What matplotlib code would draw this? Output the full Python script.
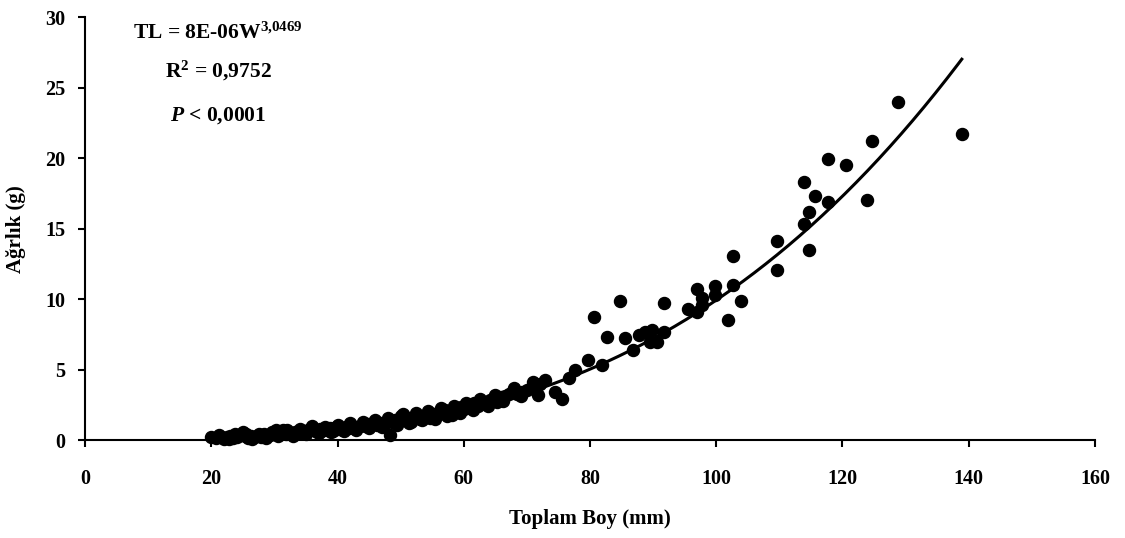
import numpy as np
import matplotlib.pyplot as plt

plt.rcParams['font.family'] = ['Liberation Serif', 'DejaVu Serif']
plt.rcParams['font.weight'] = 'bold'
plt.rcParams['mathtext.fontset'] = 'custom'
plt.rcParams['mathtext.rm'] = 'Liberation Serif:bold'
plt.rcParams['mathtext.bf'] = 'Liberation Serif:bold'
plt.rcParams['mathtext.it'] = 'Liberation Serif:italic:bold'

# total length (mm) and weight (g)
length_mm = [
    20.0, 20.8, 21.5, 22.0, 22.5, 23.0, 23.5, 24.0, 24.5, 25.0, 25.3, 25.8,
    26.3, 26.8, 27.3, 27.8, 28.3, 28.8, 29.3, 29.8, 30.3, 30.8, 31.3, 31.8,
    32.3, 32.8, 33.3, 33.8, 34.3, 34.8, 35.3, 35.8, 36.3, 36.8, 37.3, 37.8,
    38.3, 38.8, 39.3, 39.8, 40.3, 40.8, 41.3, 41.8, 42.3, 42.8, 43.3, 43.8,
    44.3, 44.8, 45.3, 45.8, 46.3, 46.8, 47.3, 47.8, 48.3, 48.6, 49.1, 49.6,
    50.1, 50.6, 51.1, 51.6, 52.1, 52.6, 53.1, 53.6, 54.1, 54.6, 55.1, 55.6,
    56.1, 56.6, 57.1, 57.6, 58.1, 58.6, 59.1, 59.6, 60.1, 60.6, 61.1, 61.6,
    62.2, 62.8, 63.5, 64.2, 64.8, 65.3, 65.9, 66.5, 67.2, 67.8, 68.5, 69.3,
    70.0, 70.8, 71.5, 71.8, 72.1, 72.9, 74.5, 75.5, 76.6, 77.6, 79.7, 80.6,
    81.9, 82.7, 84.8, 85.6, 86.8, 87.7, 88.7, 89.5, 89.8, 90.6, 91.8, 91.8,
    95.6, 96.9, 96.9, 97.8, 97.8, 99.8, 99.8, 101.8, 102.7, 102.7, 103.9,
    109.7, 109.7, 113.9, 113.9, 114.7, 114.7, 115.6, 117.7, 117.7, 120.6,
    123.9, 124.7, 128.8, 138.9,
    21.2, 22.8, 23.8, 25.5, 26.5, 27.6, 28.6, 29.6, 30.6, 32.0, 33.0, 34.0,
    35.0, 36.0, 37.0, 38.0, 39.0, 40.0, 41.0, 42.0, 43.0, 44.0, 45.0, 46.0,
    47.0, 48.0, 49.4, 50.4, 51.4, 52.4, 53.4, 54.4, 55.4, 56.4, 57.4, 58.4,
    59.4, 60.4, 61.4, 62.5, 63.8, 65.0, 66.2, 68.0, 69.0, 71.0]
weight_g = [
    0.20, 0.15, 0.22, 0.10, 0.25, 0.30, 0.12, 0.20, 0.35, 0.60, 0.28, 0.18,
    0.32, 0.22, 0.30, 0.25, 0.40, 0.30, 0.35, 0.45, 0.72, 0.55, 0.75, 0.40,
    0.50, 0.45, 0.55, 0.50, 0.65, 0.60, 0.75, 0.85, 0.70, 0.60, 0.80, 0.70,
    0.75, 0.85, 0.65, 0.90, 0.80, 0.75, 0.95, 0.85, 1.00, 0.90, 0.95, 1.05,
    1.00, 1.15, 1.10, 1.25, 1.05, 1.20, 1.15, 1.30, 0.35, 1.25, 1.40, 1.35,
    1.70, 1.45, 1.55, 1.30, 1.60, 1.75, 1.50, 1.70, 1.80, 1.60, 1.85, 1.75,
    2.00, 1.90, 2.15, 2.00, 1.80, 2.25, 2.10, 2.35, 2.20, 2.45, 2.30, 2.60,
    2.45, 2.70, 2.55, 2.85, 2.95, 2.70, 3.05, 3.10, 3.30, 3.50, 3.25, 3.40,
    3.55, 3.70, 3.90, 3.19, 4.00, 4.25, 3.43, 2.90, 4.37, 5.00, 5.67, 8.75,
    5.32, 7.33, 9.88, 7.26, 6.38, 7.45, 7.68, 6.97, 7.80, 6.97, 9.74, 7.68,
    9.30, 10.70, 9.10, 9.60, 10.05, 10.30, 10.90, 8.50, 13.05, 11.00, 9.88,
    14.15, 12.10, 18.30, 15.30, 16.20, 13.45, 17.30, 19.95, 16.90, 19.55,
    17.00, 21.20, 23.95, 21.75,
    0.35, 0.05, 0.40, 0.45, 0.10, 0.45, 0.15, 0.60, 0.30, 0.70, 0.30, 0.80,
    0.45, 1.00, 0.50, 0.95, 0.55, 1.10, 0.65, 1.20, 0.75, 1.30, 0.85, 1.45,
    0.95, 1.55, 1.10, 1.85, 1.20, 1.95, 1.40, 2.05, 1.50, 2.30, 1.70, 2.45,
    1.95, 2.65, 2.15, 2.90, 2.40, 3.20, 2.80, 3.70, 3.10, 4.10]

# power trendline as printed on the chart
fit_a = 8e-06
fit_b = 3.0469
fit_text = [r'TL = 8E-06W$^{3{,}0469}$', r'R$^{2}$ = 0,9752', r'$P$ < 0,0001']

fig = plt.figure(figsize=(11.25, 5.38), dpi=100)
ax = fig.add_axes([0.0756, 0.182, 0.8977, 0.786])

ax.scatter(length_mm, weight_g, s=75, color='k', clip_on=False, zorder=3)
xfit = np.linspace(min(length_mm), max(length_mm), 200)
ax.plot(xfit, fit_a * xfit**fit_b, color='k', lw=2.2, zorder=4)

ax.set_xlim(0, 160)
ax.set_ylim(0, 30)
ax.set_xticks(np.arange(0, 161, 20))
ax.set_yticks(np.arange(0, 31, 5))
for s in ['top', 'right']:
    ax.spines[s].set_visible(False)
for s in ['left', 'bottom']:
    ax.spines[s].set_linewidth(1.5)
ax.tick_params(axis='both', direction='out', length=5, width=1.5,
               labelsize=14.5)
ax.tick_params(axis='x', pad=16)
ax.tick_params(axis='y', pad=9)

ax.set_xlabel('Toplam Boy (mm)', fontsize=15, fontweight='bold', labelpad=14)
ax.set_ylabel('Ağrlık (g)', fontsize=15, fontweight='bold', labelpad=14)

for txt, yy in zip(fit_text, [28.85, 26.15, 23.05]):
    ax.text(21.1, yy, txt, ha='center', va='center', fontsize=15.5,
            fontweight='bold')

plt.savefig('out.png')
